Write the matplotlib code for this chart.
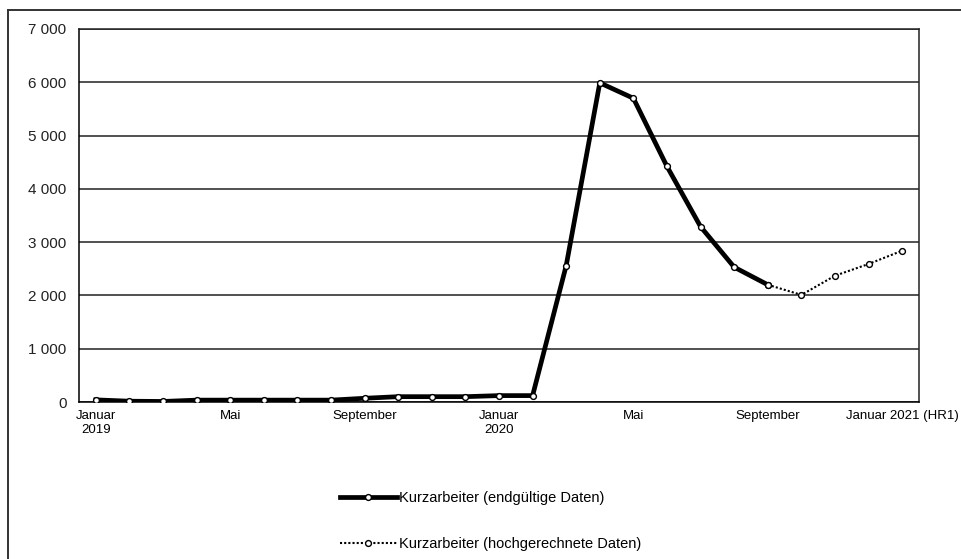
import matplotlib.pyplot as plt
from matplotlib.lines import Line2D
from matplotlib.ticker import FuncFormatter

plt.rcParams["font.family"] = ["Liberation Sans", "DejaVu Sans"]

# monthly values, January 2019 to January 2021 (in 1 000)
months = list(range(25))
final_values = [40, 15, 10, 35, 35, 35, 35, 35, 70, 100, 100, 100, 120, 120,
                2560, 5990, 5700, 4420, 3290, 2530, 2200]
proj_months = [20, 21, 22, 23, 24]
proj_values = [2200, 2010, 2370, 2590, 2840]

tick_pos = [0, 4, 8, 12, 16, 20, 24]
tick_labels = ["Januar\n2019", "Mai", "September", "Januar\n2020", "Mai",
               "September", "Januar 2021 (HR1)"]

fig = plt.figure(figsize=(9.61, 5.59), dpi=100)
ax = fig.add_axes([79 / 961, 1 - 402 / 559, 840 / 961, 373 / 559])

ax.plot(months[:len(final_values)], final_values, color="black", linewidth=3.4,
        marker="o", markersize=4.2, markerfacecolor="white",
        markeredgecolor="black", markeredgewidth=1.0,
        label="Kurzarbeiter (endgültige Daten)", zorder=4)
ax.plot(proj_months, proj_values, color="black", linewidth=1.5, linestyle=(0, (1, 1)),
        marker="o", markersize=4.2, markerfacecolor="white",
        markeredgecolor="black", markeredgewidth=1.0,
        label="Kurzarbeiter (hochgerechnete Daten)", zorder=3)

ax.set_xlim(-0.5, 24.5)
ax.set_ylim(0, 7000)
ax.set_yticks(range(0, 7001, 1000))
ax.yaxis.set_major_formatter(FuncFormatter(lambda v, p: f"{int(v):,}".replace(",", " ")))
ax.set_xticks(tick_pos)
ax.set_xticklabels(tick_labels, fontsize=9.5)
ax.tick_params(axis="y", labelsize=11, length=0, pad=9)
ax.tick_params(axis="x", length=0, pad=6)
for lab in ax.get_yticklabels():
    lab.set_color("#222222")

ax.grid(axis="y", color="#222222", linewidth=1.1)
ax.set_axisbelow(True)
for s in ax.spines.values():
    s.set_color("#222222")
    s.set_linewidth(1.1)
ax.spines["left"].set_color("black")
ax.spines["bottom"].set_color("black")

fig.legend(loc="upper left", bbox_to_anchor=(340 / 961, 1 - 491 / 559),
           frameon=False, fontsize=10.5, handlelength=3.9, handletextpad=0.15,
           labelspacing=2.2, borderpad=0, borderaxespad=0, numpoints=1)

# outer frame (left and top edges)
fig.add_artist(Line2D([8 / 961, 8 / 961], [0, 1 - 10 / 559], color="#333333",
                      linewidth=1.4, transform=fig.transFigure))
fig.add_artist(Line2D([8 / 961, 1], [1 - 10 / 559, 1 - 10 / 559], color="#333333",
                      linewidth=1.4, transform=fig.transFigure))

fig.savefig("out.png", dpi=100)
